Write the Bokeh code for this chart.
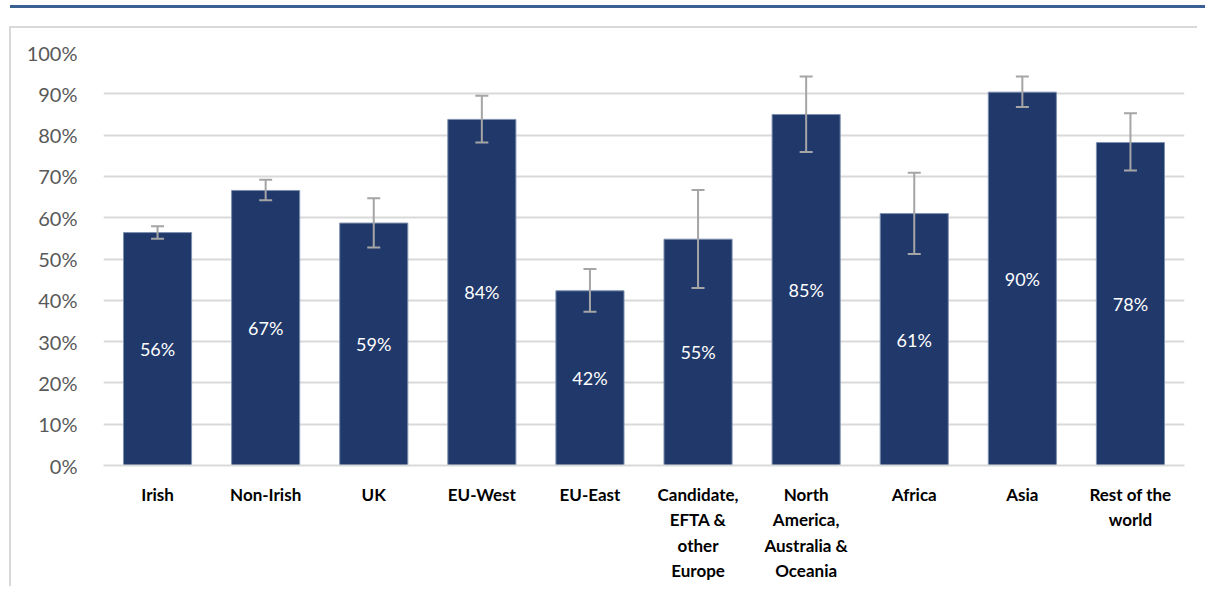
from bokeh.plotting import figure
from bokeh.models import ColumnDataSource, Whisker, NumeralTickFormatter, FixedTicker, Div, Spacer
from bokeh.layouts import column, row
from bokeh.core.properties import value
from bokeh.embed import file_html
from bokeh.resources import INLINE

categories = ["Irish", "Non-Irish", "UK", "EU-West", "EU-East",
              "Candidate,\nEFTA &\nother\nEurope",
              "North\nAmerica,\nAustralia &\nOceania",
              "Africa", "Asia", "Rest of the\nworld"]
values = [0.564, 0.666, 0.587, 0.838, 0.423, 0.548, 0.850, 0.610, 0.904, 0.782]
lower = [0.549, 0.642, 0.528, 0.782, 0.372, 0.430, 0.759, 0.512, 0.868, 0.714]
upper = [0.579, 0.692, 0.647, 0.895, 0.476, 0.667, 0.942, 0.709, 0.942, 0.853]
labels = [f"{round(v * 100)}%" for v in values]
y_ticks = [0.0, 0.1, 0.2, 0.3, 0.4, 0.5, 0.6, 0.7, 0.8, 0.9, 1.0]

src = ColumnDataSource(dict(cat=categories, val=values, lo=lower, up=upper,
                            mid=[v / 2 for v in values], lab=labels))

W, H = 1188, 560
p = figure(x_range=categories, y_range=(0, 1.0), width=W, height=H,
           output_backend="svg", toolbar_location=None,
           min_border_left=92, min_border_right=15, min_border_top=24, min_border_bottom=123,
           styles={"border-top": "2px solid #D9D9D9", "border-left": "2px solid #D9D9D9"})
p.outline_line_color = None
p.background_fill_color = "white"
p.border_fill_color = "white"

p.vbar(x="cat", top="val", width=0.63, source=src, fill_color="#21386A",
       line_color="#7E90B0", line_width=1)

wh = Whisker(base="cat", upper="up", lower="lo", source=src,
             line_color="#A5A5A5", line_width=2, level="annotation")
for head in (wh.upper_head, wh.lower_head):
    head.size = 13
    head.line_color = "#A5A5A5"
    head.line_width = 2
p.add_layout(wh)

p.text(x="cat", y="mid", text="lab", source=src, text_color="white",
       text_font=value("Lato"), text_font_size="18px",
       text_align="center", text_baseline="middle")

p.yaxis.ticker = FixedTicker(ticks=y_ticks)
p.yaxis.formatter = NumeralTickFormatter(format="0%")
p.yaxis.axis_line_color = None
p.yaxis.major_tick_line_color = None
p.yaxis.minor_tick_line_color = None
p.yaxis.major_label_text_font = "Lato"
p.yaxis.major_label_text_font_size = "20px"
p.yaxis.major_label_text_color = "#595959"
p.yaxis.major_label_standoff = 20

p.xaxis.axis_line_color = "#D9D9D9"
p.xaxis.axis_line_width = 2
p.xaxis.major_tick_line_color = None
p.xaxis.minor_tick_line_color = None
p.xaxis.major_label_text_font = "Lato"
p.xaxis.major_label_text_font_style = "bold"
p.xaxis.major_label_text_font_size = "17px"
p.xaxis.major_label_text_color = "black"
p.xaxis.major_label_standoff = 12
p.xaxis.major_label_text_line_height = 1.22

p.xgrid.grid_line_color = None
p.ygrid.grid_line_color = "#D9D9D9"
p.ygrid.grid_line_width = 2

blue = Div(text="", width=1195, height=3, styles={"background-color": "#386092"})
layout = column(row(Spacer(width=5), blue, spacing=0),
                Spacer(height=13),
                row(Spacer(width=9), p, spacing=0),
                spacing=0)

open("out.html", "w").write(file_html(layout, INLINE))
